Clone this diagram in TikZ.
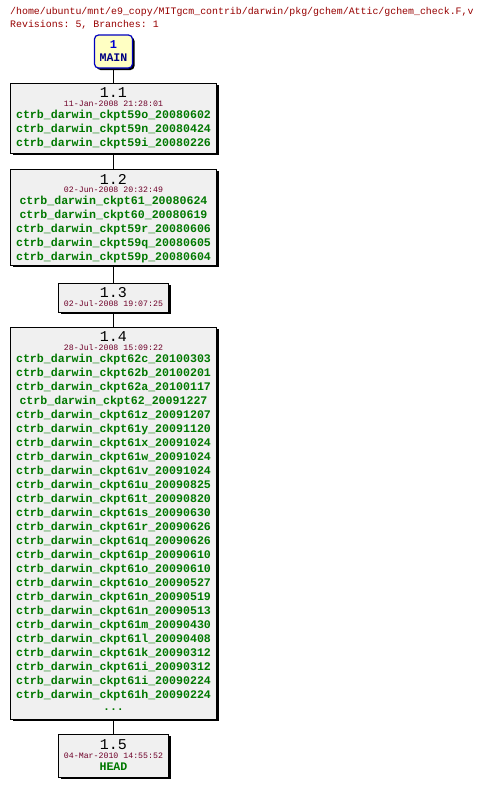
\documentclass[tikz,border=0pt]{standalone}
\usepackage{fontspec}
\setmonofont{Liberation Mono}
\usetikzlibrary{shadows}
\definecolor{hdrred}{RGB}{150,0,0}
\definecolor{datecol}{RGB}{110,0,40}
\definecolor{tagcol}{RGB}{0,120,0}
\definecolor{boxgray}{RGB}{240,240,240}
\definecolor{mainfill}{RGB}{255,255,195}
\definecolor{mainborder}{RGB}{0,0,190}
\definecolor{mainnum}{RGB}{0,0,210}
\definecolor{maintext}{RGB}{0,0,130}
\begin{document}
\begin{tikzpicture}[x=1pt,y=-1pt,
  revbox/.style={draw=black, line width=1pt, fill=boxgray, inner sep=0pt,
    drop shadow={shadow xshift=2pt, shadow yshift=-2pt, fill=black, opacity=1}},
  mainbox/.style={draw=mainborder, line width=1.2pt, fill=mainfill, rounded corners=4pt, inner sep=0pt,
    drop shadow={shadow xshift=2pt, shadow yshift=-2pt, fill=black, opacity=1}},
  hdr/.style={anchor=west, inner sep=0pt, text=hdrred, font=\ttfamily\fontsize{9.9}{10}\selectfont},
  revnum/.style={inner sep=0pt, font=\ttfamily\fontsize{15}{15}\selectfont},
  datetxt/.style={inner sep=0pt, text=datecol, font=\ttfamily\fontsize{8.25}{9}\selectfont},
  tagtxt/.style={inner sep=0pt, text=tagcol, font=\ttfamily\bfseries\fontsize{11.6}{12}\selectfont},
  conn/.style={draw=black, line width=1pt}
]
\useasboundingbox (0,0) rectangle (488,787);

\node[hdr] (h1) at (10,12) {/home/ubuntu/mnt/e9\_copy/MITgcm\_contrib/darwin/pkg/gchem/Attic/gchem\_check.F,v};
\node[hdr] (h2) at (10,25) {Revisions: 5, Branches: 1};

% boxes
\node[mainbox, minimum width=38pt, minimum height=33pt] (main) at (113.5,51.5) {};
\node[revbox, minimum width=206pt, minimum height=70pt] (b11) at (113.5,118) {};
\node[revbox, minimum width=206pt, minimum height=96pt] (b12) at (113.5,217) {};
\node[revbox, minimum width=110pt, minimum height=29pt] (b13) at (113.5,297.5) {};
\node[revbox, minimum width=206pt, minimum height=392pt] (b14) at (113.5,523) {};
\node[revbox, minimum width=110pt, minimum height=43pt] (b15) at (113.5,755.5) {};

% connectors
\draw[conn] (main.south) -- (b11.north);
\draw[conn] (b11.south) -- (b12.north);
\draw[conn] (b12.south) -- (b13.north);
\draw[conn] (b13.south) -- (b14.north);
\draw[conn] (b14.south) -- (b15.north);

% main texts
\node[inner sep=0pt, text=mainnum, font=\ttfamily\bfseries\fontsize{12}{12}\selectfont] (m1) at (113.5,45) {1};
\node[inner sep=0pt, text=maintext, font=\ttfamily\bfseries\fontsize{11.6}{12}\selectfont] (m2) at (113.5,58) {MAIN};

% 1.1
\node[revnum] (r11) at (113.5,93) {1.1};
\node[datetxt] (d11) at (113.5,104) {11-Jan-2008 21:28:01};
\foreach \t [count=\i from 0] in {ctrb\_darwin\_ckpt59o\_20080602,ctrb\_darwin\_ckpt59n\_20080424,ctrb\_darwin\_ckpt59i\_20080226}
  \node[tagtxt] (t11-\i) at (113.5,115+14*\i) {\t};

% 1.2
\node[revnum] (r12) at (113.5,179) {1.2};
\node[datetxt] (d12) at (113.5,190) {02-Jun-2008 20:32:49};
\foreach \t [count=\i from 0] in {ctrb\_darwin\_ckpt61\_20080624,ctrb\_darwin\_ckpt60\_20080619,ctrb\_darwin\_ckpt59r\_20080606,ctrb\_darwin\_ckpt59q\_20080605,ctrb\_darwin\_ckpt59p\_20080604}
  \node[tagtxt] (t12-\i) at (113.5,201+14*\i) {\t};

% 1.3
\node[revnum] (r13) at (113.5,293) {1.3};
\node[datetxt] (d13) at (113.5,304) {02-Jul-2008 19:07:25};

% 1.4
\node[revnum] (r14) at (113.5,337) {1.4};
\node[datetxt] (d14) at (113.5,348) {28-Jul-2008 15:09:22};
\foreach \t [count=\i from 0] in {
  ctrb\_darwin\_ckpt62c\_20100303,
  ctrb\_darwin\_ckpt62b\_20100201,
  ctrb\_darwin\_ckpt62a\_20100117,
  ctrb\_darwin\_ckpt62\_20091227,
  ctrb\_darwin\_ckpt61z\_20091207,
  ctrb\_darwin\_ckpt61y\_20091120,
  ctrb\_darwin\_ckpt61x\_20091024,
  ctrb\_darwin\_ckpt61w\_20091024,
  ctrb\_darwin\_ckpt61v\_20091024,
  ctrb\_darwin\_ckpt61u\_20090825,
  ctrb\_darwin\_ckpt61t\_20090820,
  ctrb\_darwin\_ckpt61s\_20090630,
  ctrb\_darwin\_ckpt61r\_20090626,
  ctrb\_darwin\_ckpt61q\_20090626,
  ctrb\_darwin\_ckpt61p\_20090610,
  ctrb\_darwin\_ckpt61o\_20090610,
  ctrb\_darwin\_ckpt61o\_20090527,
  ctrb\_darwin\_ckpt61n\_20090519,
  ctrb\_darwin\_ckpt61n\_20090513,
  ctrb\_darwin\_ckpt61m\_20090430,
  ctrb\_darwin\_ckpt61l\_20090408,
  ctrb\_darwin\_ckpt61k\_20090312,
  ctrb\_darwin\_ckpt61i\_20090312,
  ctrb\_darwin\_ckpt61i\_20090224,
  ctrb\_darwin\_ckpt61h\_20090224}
  \node[tagtxt] (t14-\i) at (113.5,359+14*\i) {\t};
\node[tagtxt] (dots) at (113.5,710) {...};

% 1.5
\node[revnum] (r15) at (113.5,745) {1.5};
\node[datetxt] (d15) at (113.5,756) {04-Mar-2010 14:55:52};
\node[tagtxt] (head) at (113.5,767) {HEAD};
\end{tikzpicture}
\end{document}
